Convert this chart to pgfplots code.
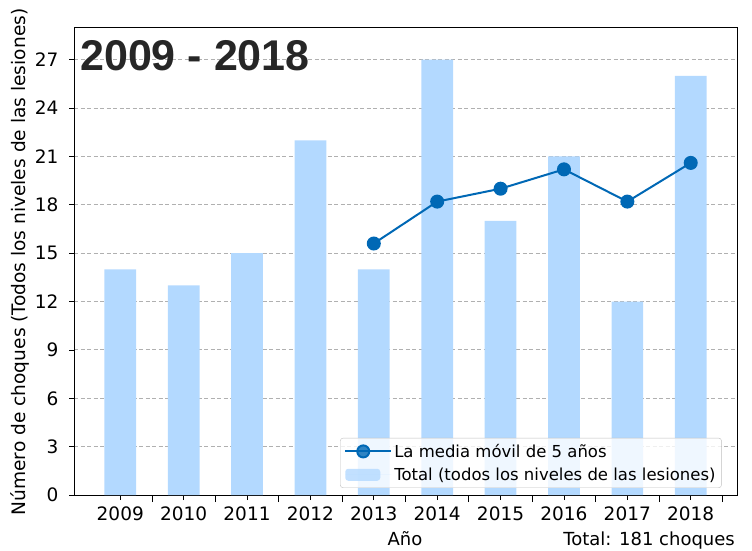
\documentclass[border=0pt]{standalone}
\usepackage{fontspec}
\setmainfont{DejaVu Sans}
\newfontfamily\titlefont{Liberation Sans}
\usepackage{pgfplots}
\pgfplotsset{compat=1.18}

\definecolor{barblue}{HTML}{B3D9FF}
\definecolor{lineblue}{HTML}{0068B5}
\definecolor{gridgray}{HTML}{B0B0B0}

\begin{document}
\begin{tikzpicture}[x=1pt,y=1pt]
  \useasboundingbox (0,0) rectangle (752,550);

  \begin{axis}[
      at={(74pt,55pt)}, anchor=south west,
      width=663pt, height=468pt, scale only axis,
      xmin=2008.27, xmax=2018.73,
      ymin=0, ymax=29.03,
      xtick={2009,...,2018},
      extra x ticks={2009.5,2010.5,2011.5,2012.5,2013.5,2014.5,2015.5,2016.5,2017.5,2018.5},
      extra x tick labels={},
      extra x tick style={major tick length=7pt, grid=none},
      ytick={0,3,...,27},
      xticklabel style={/pgf/number format/1000 sep={}},
      /pgf/number format/assume math mode=true,
      tick label style={font=\fontsize{18.5}{22}\selectfont},
      xtick pos=bottom, ytick pos=left,
      tick align=outside,
      major tick length=5pt,
      tick style={black, line width=0.8pt},
      axis line style={line width=1pt},
      ymajorgrids,
      major grid style={gridgray, dash pattern=on 4pt off 2.5pt, line width=0.9pt},
      yticklabel style={xshift=-7pt},
      xticklabel style={yshift=-3pt},
      reverse legend,
      legend cell align=left,
      legend style={at={(axis description cs:0.977,0.015)}, anchor=south east,
        fill=white, fill opacity=0.8, draw=lightgray, draw opacity=1, text opacity=1,
        rounded corners=3pt, font=\fontsize{16.5}{19}\selectfont,
        inner xsep=4pt, inner ysep=4pt, row sep=5pt},
    ]
    % barras: total por año
    \addplot[ybar, bar width=0.5, fill=barblue, draw=none,
      area legend,
      legend image code/.code={\fill[barblue] (0pt,-6pt) rectangle (35pt,6pt);
        \path (0pt,0pt) -- (46pt,0pt);}]
      coordinates {(2009,14) (2010,13) (2011,15) (2012,22) (2013,14)
                   (2014,27) (2015,17) (2016,21) (2017,12) (2018,26)};
    \addlegendentry{Total (todos los niveles de las lesiones)}

    % media movil de 5 años
    \addplot[lineblue, line width=2pt, mark=*, mark size=6pt,
      mark options={fill=lineblue, draw=lineblue},
      legend image code/.code={\draw[lineblue, line width=2pt] (0pt,0pt) -- (36pt,0pt);
        \fill[lineblue] (18pt,0pt) circle (6pt);
        \path (0pt,0pt) -- (46pt,0pt);}]
      coordinates {(2013,15.6) (2014,18.2) (2015,19.0) (2016,20.2) (2017,18.2) (2018,20.6)};
    \addlegendentry{La media móvil de 5 años}
  \end{axis}

  \node[anchor=base west, inner sep=0, text=black!85] at (80,479)
    {\titlefont\bfseries\fontsize{43}{50}\selectfont 2009 - 2018};
  \node[anchor=base, inner sep=0] at (405,5)
    {\fontsize{18}{20}\selectfont Año};
  \node[anchor=base east, inner sep=0] at (735,5)
    {\fontsize{18}{20}\selectfont Total: 181 choques};
  \node[rotate=90, anchor=center, inner sep=0] at (20,288)
    {\fontsize{18.6}{20}\selectfont Número de choques (Todos los niveles de las lesiones)};
\end{tikzpicture}
\end{document}
